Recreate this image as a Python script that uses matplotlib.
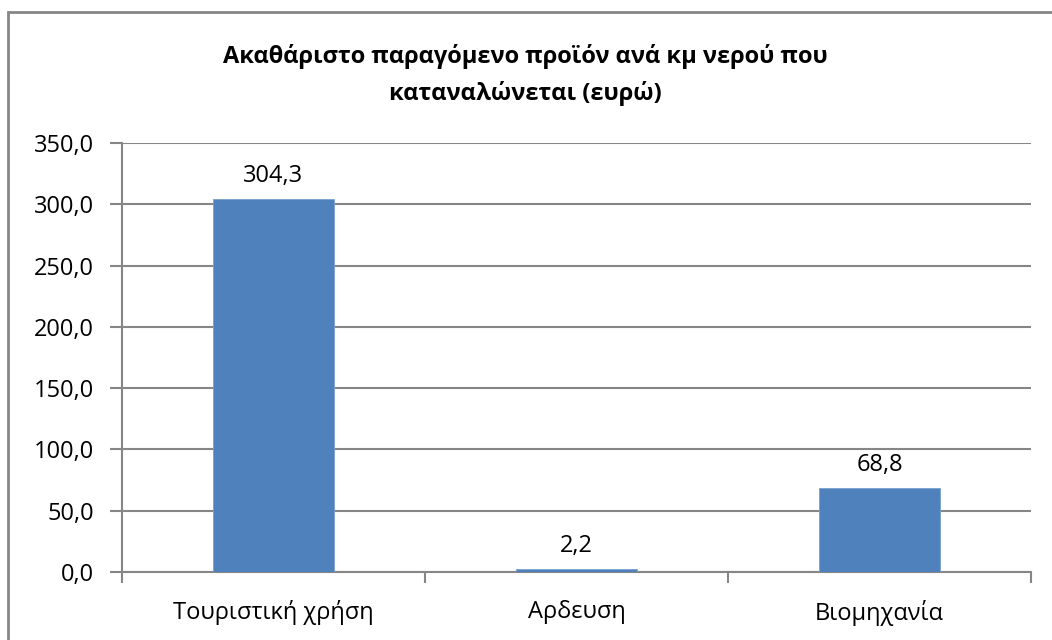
import matplotlib
matplotlib.use("Agg")
import matplotlib.pyplot as plt
from matplotlib.patches import Rectangle
from matplotlib.ticker import FuncFormatter, FixedLocator

categories = ["Τουριστική χρήση", "Αρδευση", "Βιομηχανία"]
values = [304.3, 2.2, 68.8]
title = "Ακαθάριστο παραγόμενο προϊόν ανά κμ νερού που\nκαταναλώνεται (ευρώ)"

plt.rcParams['font.family'] = ['Open Sans', 'DejaVu Sans']

fig = plt.figure(figsize=(10.52, 6.4), dpi=100)
ax = fig.add_axes([122/1052, 68/640, 909/1052, 429/640])

# outer chart border (runs off the right and bottom edges)
fig.patches.append(Rectangle((8/1052, -0.05), 1.1, (640-12)/640 + 0.05,
                             transform=fig.transFigure, fill=False,
                             edgecolor='#868686', linewidth=2.0))

x = range(len(categories))
ax.bar(x, values, width=0.4, color='#4F81BD', edgecolor='#7BA0CD', linewidth=0.6, zorder=3)
for i, v in enumerate(values):
    ax.text(i, v + 9, ("%.1f" % v).replace('.', ','), ha='center', va='bottom', fontsize=17)

ax.set_xlim(-0.5, 2.5)
ax.set_ylim(0, 350)
ax.set_yticks(range(0, 351, 50))
ax.yaxis.set_major_formatter(FuncFormatter(lambda v, p: ("%.1f" % v).replace('.', ',')))
ax.set_xticks(list(x))
ax.set_xticklabels(categories, fontsize=17)
ax.xaxis.set_minor_locator(FixedLocator([-0.5, 0.5, 1.5, 2.5]))
ax.tick_params(axis='x', which='major', length=0, pad=20)
ax.tick_params(axis='x', which='minor', length=8, color='#868686', width=1.5)
ax.tick_params(axis='y', length=9, color='#868686', width=1.5, labelsize=17, pad=11)
ax.grid(axis='y', color='#868686', linewidth=1.5, zorder=0)

for s in ['top', 'right']:
    ax.spines[s].set_visible(False)
for s in ['left', 'bottom']:
    ax.spines[s].set_color('#868686')
    ax.spines[s].set_linewidth(1.5)

fig.text(525/1052, 1 - 75/640, title, ha='center', va='center', fontsize=17,
         fontweight='bold', linespacing=1.6)

fig.savefig("out.png", dpi=100)
